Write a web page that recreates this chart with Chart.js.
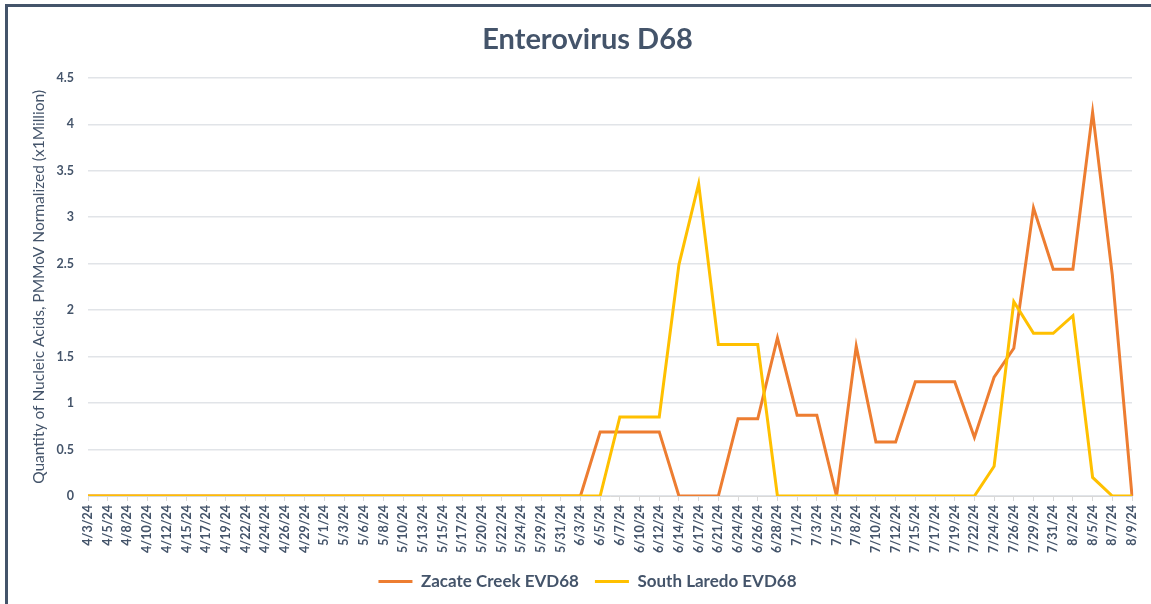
<!DOCTYPE html>
<html>
<head>
<meta charset="utf-8">
<script src="https://cdn.jsdelivr.net/npm/chart.js@4.4.1/dist/chart.umd.min.js"></script>
<style>
  html, body { margin: 0; padding: 0; background: #ffffff; }
  #wrap { position: relative; width: 1151px; height: 604px; overflow: hidden; }
  #frame { position: absolute; left: 5px; top: 4px; width: 1200px; height: 700px;
           border-left: 3px solid #44546a; border-top: 3px solid #44546a; }
  #chart { position: absolute; left: 0; top: 0; }
</style>
</head>
<body>
<div id="wrap">
  <div id="frame"></div>
  <canvas id="chart" width="1151" height="604"></canvas>
</div>
<script>
// sample dates (category axis)
var dates = ['4/3/24','4/5/24','4/8/24','4/10/24','4/12/24','4/15/24','4/17/24','4/19/24',
  '4/22/24','4/24/24','4/26/24','4/29/24','5/1/24','5/3/24','5/6/24','5/8/24','5/10/24',
  '5/13/24','5/15/24','5/17/24','5/20/24','5/22/24','5/24/24','5/29/24','5/31/24','6/3/24',
  '6/5/24','6/7/24','6/10/24','6/12/24','6/14/24','6/17/24','6/21/24','6/24/24','6/26/24',
  '6/28/24','7/1/24','7/3/24','7/5/24','7/8/24','7/10/24','7/12/24','7/15/24','7/17/24',
  '7/19/24','7/22/24','7/24/24','7/26/24','7/29/24','7/31/24','8/2/24','8/5/24','8/7/24','8/9/24'];

// Zacate Creek EVD68
var zacateCreek = [0,0,0,0,0,0,0,0, 0,0,0,0,0,0,0,0,0, 0,0,0,0,0,0,0,0,0,
  0.69,0.69,0.69,0.69,0,0,0,0.83,0.83,
  1.70,0.87,0.87,0,1.61,0.58,0.58,1.23,1.23,
  1.23,0.63,1.28,1.59,3.10,2.44,2.44,4.13,2.38,0];

// South Laredo EVD68
var southLaredo = [0,0,0,0,0,0,0,0, 0,0,0,0,0,0,0,0,0, 0,0,0,0,0,0,0,0,0,
  0,0.85,0.85,0.85,2.49,3.36,1.63,1.63,1.63,
  0,0,0,0,0,0,0,0,0,
  0,0,0.32,2.09,1.75,1.75,1.94,0.20,0,0];

var yTicks = [0, 0.5, 1, 1.5, 2, 2.5, 3, 3.5, 4, 4.5];

var textColor = '#44546a';
var fontFam = 'Lato, "Open Sans", sans-serif';

var ctx = document.getElementById('chart').getContext('2d');
var chart = new Chart(ctx, {
  type: 'line',
  data: {
    labels: dates,
    datasets: [
      { label: 'Zacate Creek EVD68', data: zacateCreek, borderColor: '#ed7d31',
        backgroundColor: '#ed7d31', borderWidth: 3, pointRadius: 0, tension: 0, order: 1 },
      { label: 'South Laredo EVD68', data: southLaredo, borderColor: '#ffc000',
        backgroundColor: '#ffc000', borderWidth: 3, pointRadius: 0, tension: 0, order: 0 }
    ]
  },
  options: {
    responsive: false,
    animation: false,
    layout: { padding: { left: 28, right: 4, top: 0, bottom: 4 } },
    plugins: {
      title: {
        display: true, text: 'Enterovirus D68', color: textColor,
        font: { family: fontFam, size: 29, weight: 'bold' },
        padding: { top: 22, bottom: 21 }
      },
      legend: {
        position: 'bottom', reverse: true,
        labels: {
          color: textColor, usePointStyle: true, pointStyle: 'line', pointStyleWidth: 34,
          font: { family: fontFam, size: 17, weight: 'bold' }, padding: 16
        }
      },
      tooltip: { enabled: false }
    },
    scales: {
      x: {
        grid: { drawOnChartArea: false, drawTicks: true, tickLength: 5, color: '#d9d9d9' },
        border: { display: true, color: '#d9d9d9' },
        ticks: { color: textColor, autoSkip: false, minRotation: 90, maxRotation: 90, padding: 4,
                 font: { family: fontFam, size: 12.5, weight: 'bold' } },
        afterFit: function (s) { s.height = 61; }
      },
      y: {
        min: 0, max: 4.5,
        afterBuildTicks: function (s) { s.ticks = yTicks.map(function (v) { return { value: v }; }); },
        grid: { color: '#e1e4e8', lineWidth: 1.5, drawTicks: false },
        border: { display: false },
        ticks: { color: textColor, padding: 14, font: { family: fontFam, size: 12.5, weight: 'bold' },
                 callback: function (v) { return String(v); } },
        title: { display: true, text: 'Quantity of Nucleic Acids, PMMoV Normalized (x1Million)',
                 color: textColor, font: { family: fontFam, size: 15.5 }, padding: { top: 2, bottom: 2 } },
        afterFit: function (s) { s.width = 60; }
      }
    }
  }
});
</script>
</body>
</html>
